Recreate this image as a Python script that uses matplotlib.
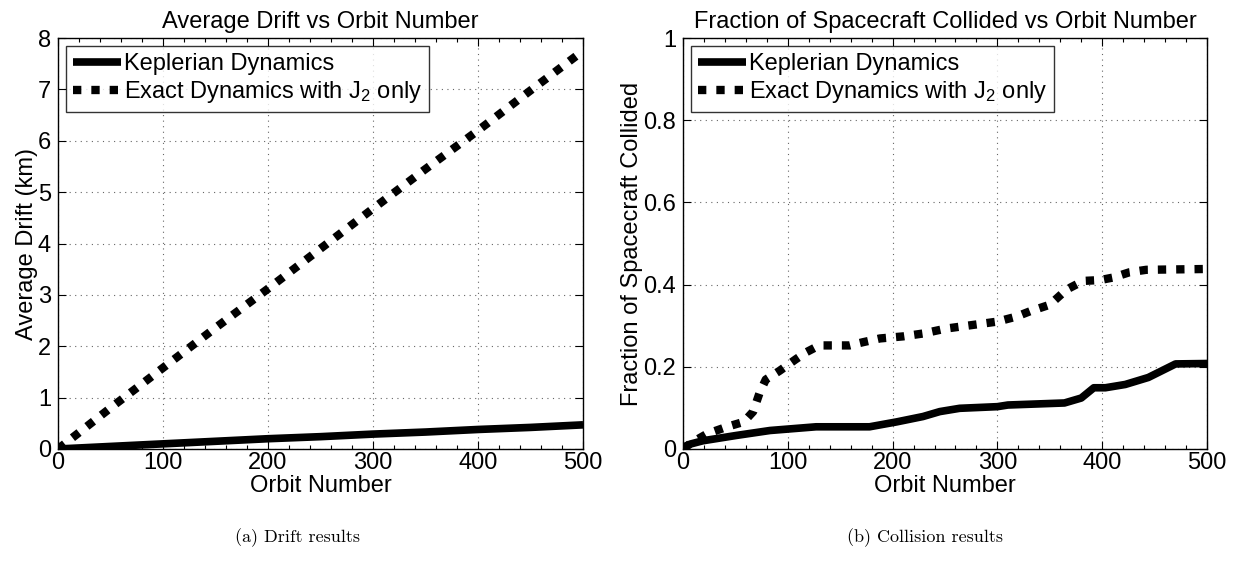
import matplotlib
matplotlib.use('Agg')
import matplotlib.pyplot as plt
from matplotlib.ticker import AutoMinorLocator, FormatStrFormatter

plt.rcParams['font.family'] = ['Liberation Sans', 'DejaVu Sans']
plt.rcParams['mathtext.default'] = 'regular'
plt.rcParams['font.size'] = 17

# drift (km) vs orbit
orbit_drift = [0, 50, 100, 150, 200, 250, 300, 350, 400, 450, 500]
drift_kepler = [0.0, 0.05, 0.10, 0.15, 0.20, 0.24, 0.29, 0.33, 0.38, 0.42, 0.47]
drift_exact = [0.0, 0.80, 1.58, 2.36, 3.12, 3.90, 4.68, 5.45, 6.20, 6.98, 7.75]

# fraction collided vs orbit
orbit_kep = [0, 7, 19, 51, 83, 127, 178, 204, 229, 245, 264, 300, 310, 364,
             380, 392, 403, 422, 444, 470, 500]
frac_kep = [0.004, 0.012, 0.02, 0.033, 0.045, 0.054, 0.054, 0.066, 0.079, 0.091,
            0.099, 0.103, 0.107, 0.112, 0.124, 0.149, 0.149, 0.157, 0.174, 0.207, 0.208]
orbit_ex = [0, 8, 23, 42, 58, 67, 73, 79, 92, 108, 118, 130, 159, 172, 188, 210,
            229, 251, 277, 300, 318, 331, 350, 366, 382, 398, 410, 426, 442, 500]
frac_ex = [0.0, 0.015, 0.037, 0.054, 0.066, 0.091, 0.136, 0.169, 0.19, 0.219,
           0.236, 0.252, 0.252, 0.26, 0.269, 0.274, 0.281, 0.293, 0.302, 0.31,
           0.322, 0.335, 0.351, 0.388, 0.409, 0.411, 0.417, 0.43, 0.436, 0.438]

labels = ['Keplerian Dynamics', 'Exact Dynamics with J$_2$ only']


def style_axes(ax):
    ax.tick_params(which='both', direction='in', top=True, right=True, width=0.8, labelsize=17)
    ax.tick_params(which='major', length=6)
    ax.tick_params(which='minor', length=3)
    ax.tick_params(axis='x', pad=2)
    ax.tick_params(axis='y', pad=5)
    ax.xaxis.set_minor_locator(AutoMinorLocator(5))
    ax.grid(True, which='major', linestyle=(0, (1, 4)), color='0.4', linewidth=0.8)
    for s in ax.spines.values():
        s.set_linewidth(1.0)
    ax.set_xlim(0, 500)
    ax.set_xticks([0, 100, 200, 300, 400, 500])
    ax.set_xlabel('Orbit Number', fontsize=17, labelpad=1)


def draw(ax, x1, y1, x2, y2):
    ax.plot(x1, y1, color='black', linewidth=5.5, solid_capstyle='butt', label=labels[0])
    ax.plot(x2, y2, color='black', linewidth=6, linestyle=(0, (1, 1.2)),
            dash_capstyle='butt', label=labels[1])
    leg = ax.legend(loc='upper left', fontsize=17, frameon=True, fancybox=False,
                    handlelength=2.0, handletextpad=0.15, borderpad=0.3,
                    labelspacing=0.15, borderaxespad=0.35)
    leg.get_frame().set_edgecolor('black')
    leg.get_frame().set_linewidth(1.0)


fig = plt.figure(figsize=(12.4, 5.76), dpi=100)

ax1 = fig.add_axes([0.0468, 0.2205, 0.4234, 0.7135])
style_axes(ax1)
draw(ax1, orbit_drift, drift_kepler, orbit_drift, drift_exact)
ax1.set_ylim(0, 8)
ax1.set_yticks(range(0, 9))
ax1.set_ylabel('Average Drift (km)', fontsize=17, labelpad=0)
ax1.set_title('Average Drift vs Orbit Number', fontsize=17, pad=7)

ax2 = fig.add_axes([0.5508, 0.2205, 0.4226, 0.7135])
style_axes(ax2)
draw(ax2, orbit_kep, frac_kep, orbit_ex, frac_ex)
ax2.set_ylim(0, 1)
ax2.set_yticks([0, 0.2, 0.4, 0.6, 0.8, 1.0])
ax2.yaxis.set_major_formatter(FormatStrFormatter('%g'))
ax2.set_ylabel('Fraction of Spacecraft Collided', fontsize=17, labelpad=0)
ax2.set_title('Fraction of Spacecraft Collided vs Orbit Number', fontsize=17, pad=7)

fig.text(0.24, 0.067, '(a) Drift results', family='cmr10', fontsize=13, ha='center', va='center')
fig.text(0.746, 0.067, '(b) Collision results', family='cmr10', fontsize=13, ha='center', va='center')

fig.savefig('out.png', dpi=100)
